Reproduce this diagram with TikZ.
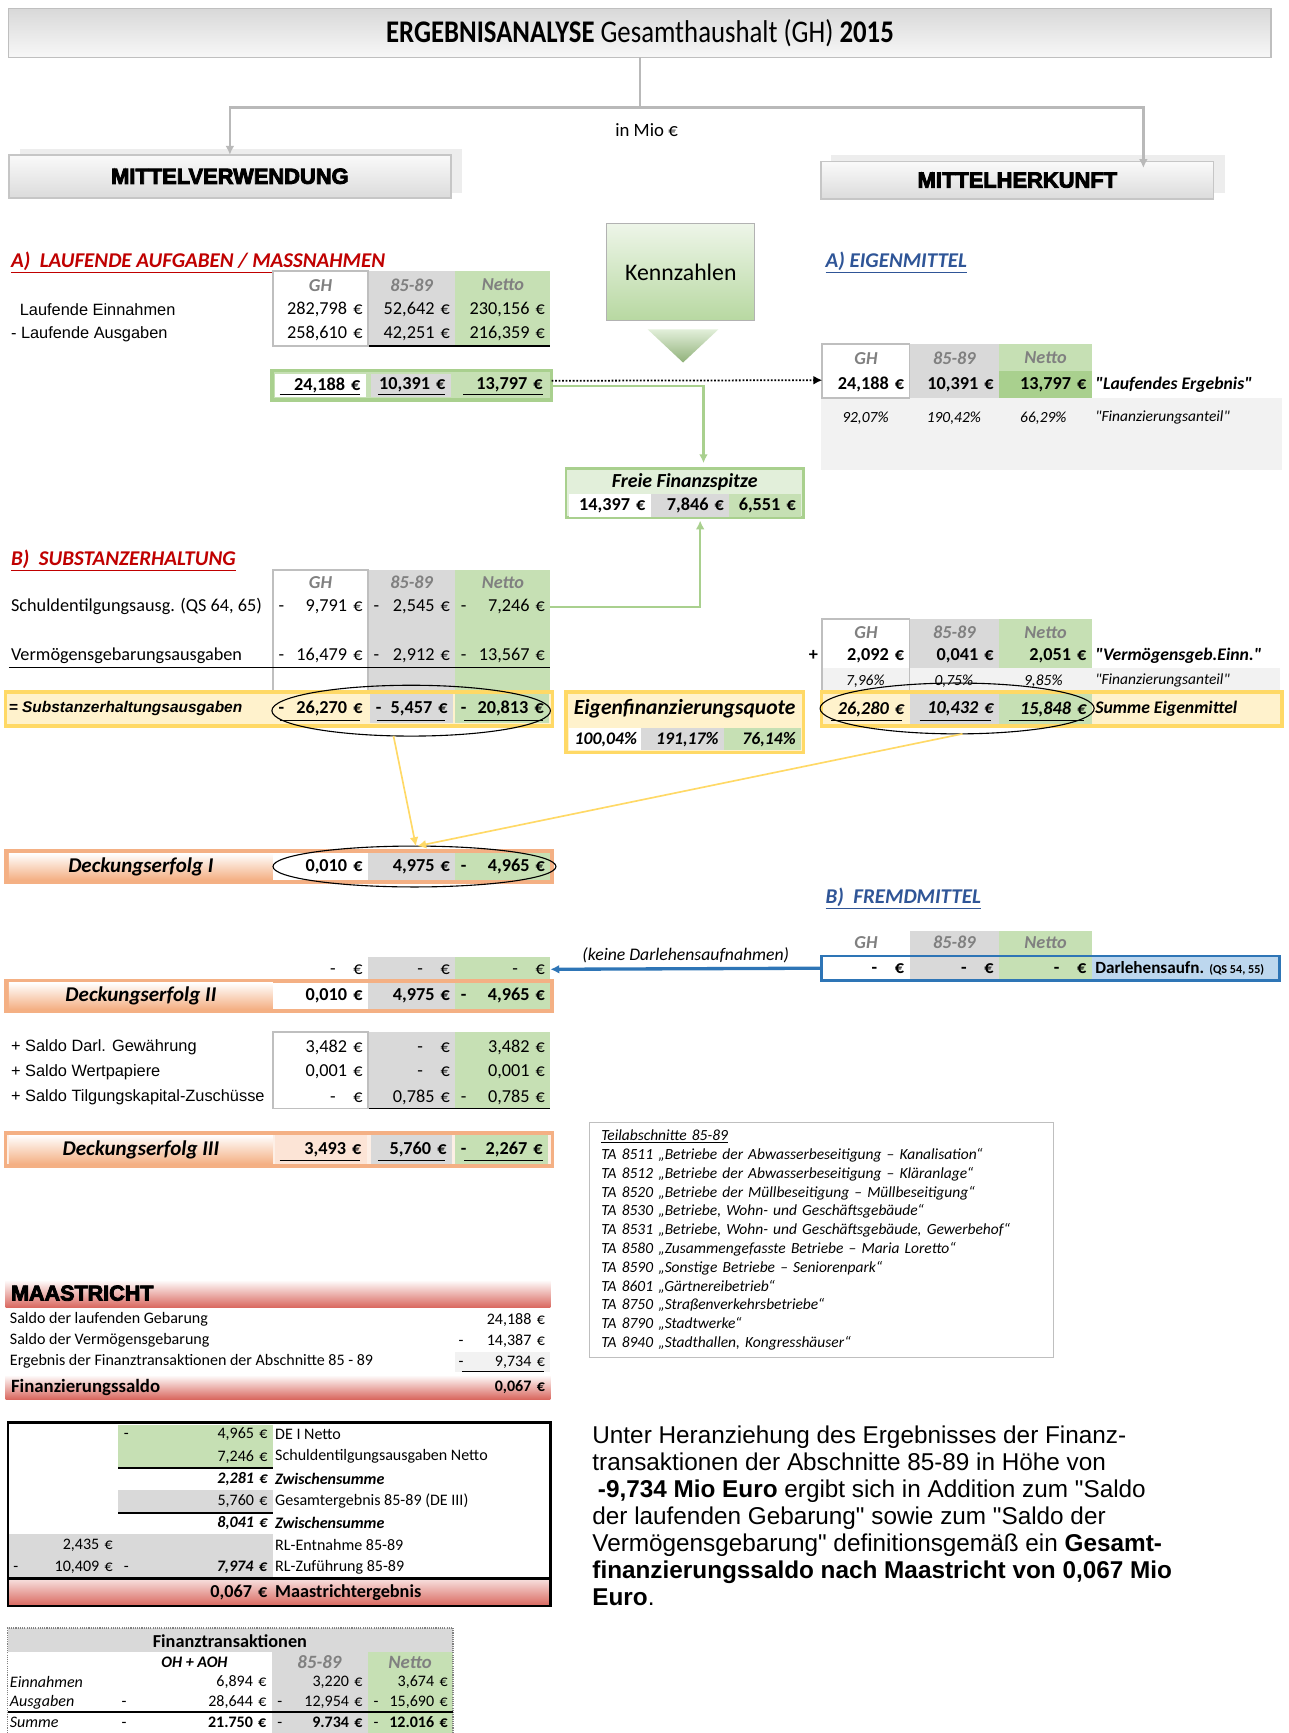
\documentclass[tikz,border=0pt]{standalone}
\usepackage{fontspec}
\usepackage{xcolor}
\usepackage{tikz}
\usetikzlibrary{positioning, arrows.meta, calc, shapes.geometric}

\setmainfont{Carlito}[Ligatures=TeXOff]
\newfontfamily\arialfont{Liberation Sans}[Ligatures=TeXOff]
\newfontfamily\blackfont{Liberation Sans Bold}[FakeBold=4]
\newfontfamily\titfont{Carlito}[FakeStretch=0.85]
\newcommand{\sz}[1]{\fontsize{#1}{#1}\selectfont}

\definecolor{cellgray}{HTML}{D9D9D9}
\definecolor{cellgreen}{HTML}{C6E0B4}
\definecolor{darkgreen}{HTML}{A9D08E}
\definecolor{palegreen}{HTML}{E2EFDA}
\definecolor{cellyellow}{HTML}{FFF2CC}
\definecolor{lineyellow}{HTML}{FFD966}
\definecolor{lineorange}{HTML}{F4B084}
\definecolor{cellorange}{HTML}{FCE4D6}
\definecolor{bandred}{HTML}{D9675E}
\definecolor{headred}{HTML}{C00000}
\definecolor{headblue}{HTML}{2F5597}
\definecolor{lineblue}{HTML}{2E75B6}
\definecolor{cellblue}{HTML}{BDD7EE}
\definecolor{cellpale}{HTML}{F2F2F2}
\definecolor{headgray}{HTML}{808080}

\begin{document}
\begin{tikzpicture}[ x = 1pt, y = -1pt
                     , >={Latex[width=8pt, length=8pt]}
                     , font = \sz{16.5}
                     , every node/.style = { inner sep = 0pt, outer sep = 0pt }
                     , cellbox/.style = { anchor = north west
                                        , minimum height = 22pt
                                        , inner xsep = 5pt
                                        , text width = #1
                                        , align = right }
                     , cellbox/.default = 76pt
                     , rowlbl/.style = { anchor = west }
                     , colhead/.style = { font = \sz{16.5}\bfseries\itshape, text = headgray }
                     , section/.style = { anchor = west, font = \sz{19}\bfseries\itshape }
                     , band/.style = { anchor = north west, line width = 3pt }
                     , deckung/.style = { anchor = north west
                                        , minimum width = 239pt
                                        , minimum height = 24pt
                                        , top color = white
                                        , bottom color = lineorange
                                        , font = \sz{19}\bfseries\itshape }
                     , ring/.style = { draw, ellipse, line width = 1pt }
                     , conn/.style = { draw = gray!55, line width = 2.5pt }
                     , gline/.style = { draw = darkgreen, line width = 2pt }
                     , yline/.style = { draw = lineyellow, line width = 1.5pt }
                     , bline/.style = { draw = lineblue, line width = 3pt }
                     ]

  \useasboundingbox (0,0) rectangle (1166,1568);
  \fill [white] (0,0) rectangle (1166,1568);

  \node (title) [ anchor = north west, minimum width = 1142pt, minimum height = 44pt
                , top color = gray!30, bottom color = gray!6, draw = gray!50, line width = 1pt
                , font = \titfont\sz{28.5} ] at (8,8)
    {\textbf{ERGEBNISANALYSE} Gesamthaushalt (GH) \textbf{2015}};

  \fill [gray!14] (18,135) rectangle (418,175);
  \node (mv) [ anchor = north west, minimum width = 400pt, minimum height = 39pt
             , top color = gray!4, bottom color = gray!28, draw = gray!45, line width = 1.5pt
             , font = \blackfont\sz{19.8} ] at (8,140) {MITTELVERWENDUNG};
  \fill [gray!14] (752,140) rectangle (1108,175);
  \node (mh) [ anchor = north west, minimum width = 355pt, minimum height = 34pt
             , top color = gray!4, bottom color = gray!28, draw = gray!45, line width = 1.5pt
             , font = \blackfont\sz{19.8} ] at (743,146) {MITTELHERKUNFT};

  \coordinate (split) at (579,97);
  \draw [conn] (title.south) -- (split);
  \draw [conn, ->] (split) -| (mv.north);
  \draw [conn, ->] (split) -| ([xshift = 114pt, yshift = -6pt] mh.north);
  \node (unit) [font = \sz{17}] at (585,118) {in Mio €};

  \node (secA) [section, text = headred] at (10,237) {\underline{A)\ \ LAUFENDE AUFGABEN / MASSNAHMEN}};
  \fill [cellgray] (333,245) rectangle (412,313);
  \fill [cellgreen] (412,245) rectangle (498,313);
  \draw [gray!50, line width = 1.5pt, fill = white] (247,245) rectangle (333,313);
  \draw [line width = 1.5pt] (334,313) -- (498,313);
  \node (a0gh) [colhead] at (290,258) {GH};
  \node (a0ea) [colhead] at (372.5,258) {85-89};
  \node (a0nt) [colhead] at (455,258) {Netto};
  \node (a1lbl) [rowlbl, font = \arialfont\sz{14.8}] at (18,280) {Laufende Einnahmen};
  \node (a1gh) [cellbox = 76pt] at (247,269) {282,798 €};
  \node (a1ea) [cellbox = 69pt] at (333,269) {52,642 €};
  \node (a1nt) [cellbox = 76pt] at (412,269) {230,156 €};
  \node (a2lbl) [rowlbl, font = \arialfont\sz{14.8}] at (10,302) {- Laufende Ausgaben};
  \node (a2gh) [cellbox = 76pt] at (247,291) {258,610 €};
  \node (a2ea) [cellbox = 69pt] at (333,291) {42,251 €};
  \node (a2nt) [cellbox = 76pt] at (412,291) {216,359 €};

  \node (sumA) [band, draw = darkgreen, fill = cellgreen, minimum width = 253pt, minimum height = 27pt] at (246,335) {};
  \node (sumAgh) [cellbox = 72pt, minimum height = 21pt, fill = white, font = \sz{16.5}\bfseries] at (249,338) {24,188 €};
  \node (sumAea) [cellbox = 62pt, minimum height = 21pt, fill = cellgray, font = \sz{16.5}\bfseries] at (336,338) {10,391 €};
  \node (sumAnt) [cellbox = 74pt, minimum height = 21pt, font = \sz{16.5}\bfseries] at (412,338) {13,797 €};
  \draw [line width = 1.5pt] (253,357) -- (326,357) (342,357) -- (403,357) (419,357) -- (491,357);

  \node (kz) [ anchor = north west, minimum width = 134pt, minimum height = 88pt
             , top color = palegreen!60!white, bottom color = cellgreen!50!darkgreen
             , draw = gray!60, line width = 1pt, font = \sz{21.5} ] at (549,202) {Kennzahlen};
  \shade [top color = palegreen, bottom color = darkgreen!85!black] (586,298) -- (650,298) -- (618,328) -- cycle;

  \node (secEA) [section, text = headblue] at (747,237) {\underline{A) EIGENMITTEL}};
  \fill [cellpale] (743,360) rectangle (1160,425);
  \fill [cellgray] (823,311) rectangle (904,360);
  \fill [cellgreen] (904,311) rectangle (988,336);
  \fill [darkgreen] (904,336) rectangle (988,360);
  \draw [gray!50, line width = 1.5pt, fill = white] (744,311) rectangle (823,360);
  \node (e0gh) [colhead] at (783.5,324) {GH};
  \node (e0ea) [colhead] at (863.5,324) {85-89};
  \node (e0nt) [colhead] at (946,324) {Netto};
  \node (e1gh) [cellbox = 69pt, minimum height = 24pt, font = \sz{16.5}\bfseries] at (744,336) {24,188 €};
  \node (e1ea) [cellbox = 71pt, minimum height = 24pt, font = \sz{16.5}\bfseries] at (823,336) {10,391 €};
  \node (e1nt) [cellbox = 74pt, minimum height = 24pt, font = \sz{16.5}\bfseries] at (904,336) {13,797 €};
  \node (e1lbl) [rowlbl, font = \sz{16}\bfseries\itshape] at (991,348) {"Laufendes Ergebnis"};
  \node (e2gh) [font = \sz{14}\itshape] at (783,378) {92,07\%};
  \node (e2ea) [font = \sz{14}\itshape] at (863,378) {190,42\%};
  \node (e2nt) [font = \sz{14}\itshape] at (944,378) {66,29\%};
  \node (e2lbl) [rowlbl, font = \sz{14}\itshape] at (991,378) {"Finanzierungsanteil"};

  \draw [dash pattern = on 1.6pt off 1.6pt, line width = 1.6pt, ->] ([yshift = 4pt] sumA.east) -- ([yshift = 4pt] e1gh.west);

  \node (ffs) [ anchor = north west, minimum width = 215pt, minimum height = 44pt
              , draw = darkgreen, line width = 2.5pt, fill = palegreen ] at (512,424) {};
  \node (ffst) [font = \sz{18}\bfseries\itshape] at (619.5,436) {Freie Finanzspitze};
  \node (ffsgh) [cellbox = 64pt, minimum height = 21pt, fill = white, font = \sz{16.5}\bfseries] at (515,447) {14,397 €};
  \node (ffsea) [cellbox = 61pt, minimum height = 21pt, fill = cellgray, font = \sz{16.5}\bfseries] at (589,447) {7,846 €};
  \node (ffsnt) [cellbox = 55pt, minimum height = 21pt, fill = cellgreen, font = \sz{16.5}\bfseries] at (660,447) {6,551 €};

  \draw [gline, ->] ([yshift = -1pt] sumA.east) -| ([xshift = 17pt, yshift = 5pt] ffs.north);

  \node (secB) [section, text = headred] at (10,507) {\underline{B)\ \ SUBSTANZERHALTUNG}};
  \fill [cellgray] (333,516) rectangle (412,628);
  \fill [cellgreen] (412,516) rectangle (498,628);
  \draw [gray!50, line width = 1.5pt, fill = white] (247,516) rectangle (333,626);
  \node (b0gh) [colhead] at (290,527) {GH};
  \node (b0ea) [colhead] at (372.5,527) {85-89};
  \node (b0nt) [colhead] at (455,527) {Netto};
  \node (b1lbl) [rowlbl] at (10,549) {Schuldentilgungsausg. (QS 64, 65)};
  \node (b1gh) [cellbox = 76pt] at (247,538) {-\hfill 9,791 €};
  \node (b1ea) [cellbox = 69pt] at (333,538) {-\hfill 2,545 €};
  \node (b1nt) [cellbox = 76pt] at (412,538) {-\hfill 7,246 €};
  \node (b2lbl) [rowlbl] at (10,593) {Vermögensgebarungsausgaben};
  \node (b2gh) [cellbox = 76pt] at (247,582) {-\hfill 16,479 €};
  \node (b2ea) [cellbox = 69pt] at (333,582) {-\hfill 2,912 €};
  \node (b2nt) [cellbox = 76pt] at (412,582) {-\hfill 13,567 €};
  \draw [line width = 1.5pt] (8,604) -- (498,604);

  \draw [gline, ->] (b1nt.east) -| ([xshift = 14pt, yshift = -3pt] ffs.south);

  \node (sumB) [band, draw = lineyellow, fill = cellyellow, minimum width = 495pt, minimum height = 31pt] at (5,626) {};
  \node (sumBlbl) [rowlbl, font = \arialfont\sz{14}\bfseries\itshape] at (8,641) {= Substanzerhaltungsausgaben};
  \node (sumBgh) [cellbox = 76pt, minimum height = 26pt, font = \sz{16.5}\bfseries] at (247,628) {-\hfill 26,270 €};
  \node (sumBea) [cellbox = 65pt, minimum height = 26pt, fill = cellgray, font = \sz{16.5}\bfseries] at (335,628) {-\hfill 5,457 €};
  \node (sumBnt) [cellbox = 75pt, minimum height = 26pt, fill = cellgreen, font = \sz{16.5}\bfseries] at (412,628) {-\hfill 20,813 €};
  \draw [line width = 1.5pt] (253,652) -- (326,652) (341,652) -- (403,652) (420,652) -- (491,652);
  \node (ringB) [ring, minimum width = 252pt, minimum height = 46pt] at (372,643) {};

  \node (efq) [band, draw = lineyellow, fill = cellyellow, minimum width = 215pt, minimum height = 55pt] at (512,626) {};
  \node (efqt) [font = \sz{19.5}\bfseries\itshape] at (619.5,641) {Eigenfinanzierungsquote};
  \node (efqgh) [cellbox = 55pt, minimum height = 20pt, fill = white, font = \sz{16}\bfseries\itshape] at (515,659) {100,04\%};
  \node (efqea) [cellbox = 65pt, minimum height = 20pt, fill = cellgray, font = \sz{16}\bfseries\itshape] at (580,659) {191,17\%};
  \node (efqnt) [cellbox = 60pt, minimum height = 20pt, fill = cellgreen, font = \sz{16}\bfseries\itshape] at (655,659) {76,14\%};

  \fill [cellpale] (744,604) rectangle (1158,626);
  \fill [white] (744,560) rectangle (823,604);
  \fill [cellgray] (823,560) rectangle (904,604);
  \fill [cellgreen] (904,560) rectangle (988,604);
  \draw [gray!50, line width = 1.5pt] (744,560) rectangle (823,626);
  \node (f0gh) [colhead] at (783.5,572) {GH};
  \node (f0ea) [colhead] at (863.5,572) {85-89};
  \node (f0nt) [colhead] at (946,572) {Netto};
  \node (f1plus) [font = \sz{16.5}\bfseries] at (736,593) {+};
  \node (f1gh) [cellbox = 69pt, font = \sz{16.5}\bfseries] at (744,582) {2,092 €};
  \node (f1ea) [cellbox = 71pt, font = \sz{16.5}\bfseries] at (823,582) {0,041 €};
  \node (f1nt) [cellbox = 74pt, font = \sz{16.5}\bfseries] at (904,582) {2,051 €};
  \node (f1lbl) [rowlbl, font = \sz{16}\bfseries\itshape] at (991,593) {"Vermögensgeb.Einn."};
  \node (f2gh) [font = \sz{14}\itshape] at (783,616) {7,96\%};
  \node (f2ea) [font = \sz{14}\itshape] at (863,616) {0,75\%};
  \node (f2nt) [font = \sz{14}\itshape] at (944,616) {9,85\%};
  \node (f2lbl) [rowlbl, font = \sz{14}\itshape] at (991,616) {"Finanzierungsanteil"};

  \node (sumE) [band, draw = lineyellow, fill = cellyellow, minimum width = 417pt, minimum height = 31pt] at (743,626) {};
  \node (sumEgh) [cellbox = 69pt, minimum height = 27pt, font = \sz{16.5}\bfseries\itshape] at (744,628) {26,280 €};
  \node (sumEea) [cellbox = 71pt, minimum height = 27pt, fill = cellgray, font = \sz{16.5}\bfseries\itshape] at (823,628) {10,432 €};
  \node (sumEnt) [cellbox = 74pt, minimum height = 27pt, fill = cellgreen, font = \sz{16.5}\bfseries\itshape] at (904,628) {15,848 €};
  \draw [line width = 1.5pt] (752,652) -- (816,652) (832,652) -- (897,652) (913,652) -- (981,652);
  \node (sumElbl) [rowlbl, font = \sz{16}\bfseries\itshape] at (991,641) {Summe Eigenmittel};
  \node (ringE) [ring, minimum width = 248pt, minimum height = 46pt] at (866,641) {};

  \node (deI) [band, draw = lineorange, fill = lineorange, minimum width = 495pt, minimum height = 28pt] at (5,770) {};
  \node (deIlbl) [deckung] at (8,772) {Deckungserfolg I};
  \node (deIgh) [cellbox = 76pt, minimum height = 24pt, fill = white, font = \sz{16.5}\bfseries] at (247,772) {0,010 €};
  \node (deIea) [cellbox = 69pt, minimum height = 24pt, fill = cellgray, font = \sz{16.5}\bfseries] at (333,772) {4,975 €};
  \node (deInt) [cellbox = 76pt, minimum height = 24pt, fill = cellgreen, font = \sz{16.5}\bfseries] at (412,772) {-\hfill 4,965 €};
  \node (ringD) [ring, minimum width = 256pt, minimum height = 37pt] at (375,784) {};

  \draw [yline, ->] (ringB.235) -- (ringD.86);
  \draw [yline, ->] (ringE.282) -- (ringD.82);

  \node (secFM) [section, text = headblue] at (747,813) {\underline{B)\ \ FREMDMITTEL}};
  \fill [cellgray] (823,842) rectangle (904,864);
  \fill [cellgreen] (904,842) rectangle (988,864);
  \node (g0gh) [colhead] at (783.5,853) {GH};
  \node (g0ea) [colhead] at (863.5,853) {85-89};
  \node (g0nt) [colhead] at (946,853) {Netto};
  \fill [cellgray] (823,866) rectangle (904,886);
  \fill [cellgreen] (904,866) rectangle (988,886);
  \fill [cellblue] (988,866) rectangle (1157,886);
  \node (fm) [ anchor = north west, minimum width = 415pt, minimum height = 22pt
             , draw = lineblue, line width = 2.5pt ] at (743,865) {};
  \node (g1gh) [cellbox = 69pt, font = \sz{16.5}\bfseries] at (744,865) {-\hspace{16pt}€};
  \node (g1ea) [cellbox = 71pt, font = \sz{16.5}\bfseries] at (823,865) {-\hspace{16pt}€};
  \node (g1nt) [cellbox = 74pt, font = \sz{16.5}\bfseries] at (904,865) {-\hspace{16pt}€};
  \node (g1lbl) [rowlbl, font = \sz{15.5}\bfseries] at (991,876) {Darlehensaufn. {\sz{11}(QS 54, 55)}};

  \node (z0gh) [cellbox = 76pt] at (247,866) {-\hspace{16pt}€};
  \node (z0ea) [cellbox = 69pt, fill = cellgray] at (333,866) {-\hspace{16pt}€};
  \node (z0nt) [cellbox = 76pt, fill = cellgreen] at (412,866) {-\hspace{16pt}€};

  \draw [bline, ->] (fm.west) -- node [above = 5pt, font = \sz{16}\itshape] (nodarl) {(keine Darlehensaufnahmen)} (z0nt.east);

  \node (deII) [band, draw = lineorange, fill = lineorange, minimum width = 495pt, minimum height = 28pt] at (5,887) {};
  \node (deIIlbl) [deckung] at (8,889) {Deckungserfolg II};
  \node (deIIgh) [cellbox = 76pt, minimum height = 24pt, fill = white, font = \sz{16.5}\bfseries] at (247,889) {0,010 €};
  \node (deIIea) [cellbox = 69pt, minimum height = 24pt, fill = cellgray, font = \sz{16.5}\bfseries] at (333,889) {4,975 €};
  \node (deIInt) [cellbox = 76pt, minimum height = 24pt, fill = cellgreen, font = \sz{16.5}\bfseries] at (412,889) {-\hfill 4,965 €};

  \fill [cellgray] (333,934) rectangle (412,1003);
  \fill [cellgreen] (412,934) rectangle (498,1003);
  \draw [gray!50, line width = 1.5pt, fill = white] (247,934) rectangle (333,1003);
  \draw [line width = 1.5pt] (334,1003) -- (498,1003);
  \node (h1lbl) [rowlbl, font = \arialfont\sz{14.8}] at (10,948) {+ Saldo Darl. Gewährung};
  \node (h1gh) [cellbox = 76pt] at (247,937) {3,482 €};
  \node (h1ea) [cellbox = 69pt] at (333,937) {-\hspace{16pt}€};
  \node (h1nt) [cellbox = 76pt] at (412,937) {3,482 €};
  \node (h2lbl) [rowlbl, font = \arialfont\sz{14.8}] at (10,970) {+ Saldo Wertpapiere};
  \node (h2gh) [cellbox = 76pt] at (247,959) {0,001 €};
  \node (h2ea) [cellbox = 69pt] at (333,959) {-\hspace{16pt}€};
  \node (h2nt) [cellbox = 76pt] at (412,959) {0,001 €};
  \node (h3lbl) [rowlbl, font = \arialfont\sz{14.8}] at (10,993) {+ Saldo Tilgungskapital-Zuschüsse};
  \node (h3gh) [cellbox = 76pt] at (247,982) {-\hspace{16pt}€};
  \node (h3ea) [cellbox = 69pt] at (333,982) {0,785 €};
  \node (h3nt) [cellbox = 76pt] at (412,982) {-\hfill 0,785 €};

  \node (deIII) [band, draw = lineorange, fill = cellorange!60, minimum width = 495pt, minimum height = 30pt] at (5,1025) {};
  \node (deIIIlbl) [deckung, minimum height = 26pt] at (8,1027) {Deckungserfolg III};
  \node (deIIIgh) [cellbox = 73pt, minimum height = 26pt, fill = cellorange, font = \sz{16.5}\bfseries] at (249,1027) {3,493 €};
  \node (deIIIea) [cellbox = 63pt, minimum height = 26pt, fill = cellgray, font = \sz{16.5}\bfseries] at (336,1027) {5,760 €};
  \node (deIIInt) [cellbox = 74pt, minimum height = 26pt, fill = cellgreen, font = \sz{16.5}\bfseries] at (412,1027) {-\hfill 2,267 €};
  \draw [line width = 1.5pt] (253,1050) -- (326,1050) (342,1050) -- (403,1050) (420,1050) -- (491,1050);

  \node (ta) [ anchor = north west, draw = gray!50, line width = 1pt
             , minimum width = 420pt, minimum height = 212pt
             , inner xsep = 11pt, inner ysep = 4pt, text width = 398pt, align = left
             , font = \fontsize{14}{17}\selectfont\itshape ] at (533,1016)
    {\underline{Teilabschnitte 85-89}\\
     TA 8511 „Betriebe der Abwasserbeseitigung – Kanalisation“\\
     TA 8512 „Betriebe der Abwasserbeseitigung – Kläranlage“\\
     TA 8520 „Betriebe der Müllbeseitigung – Müllbeseitigung“\\
     TA 8530 „Betriebe, Wohn- und Geschäftsgebäude“\\
     TA 8531 „Betriebe, Wohn- und Geschäftsgebäude, Gewerbehof“\\
     TA 8580 „Zusammengefasste Betriebe – Maria Loretto“\\
     TA 8590 „Sonstige Betriebe – Seniorenpark“\\
     TA 8601 „Gärtnereibetrieb“\\
     TA 8750 „Straßenverkehrsbetriebe“\\
     TA 8790 „Stadtwerke“\\
     TA 8940 „Stadthallen, Kongresshäuser“};

  \node (maa) [ anchor = north west, minimum width = 493pt, minimum height = 25pt
              , top color = white, bottom color = bandred ] at (5,1158) {};
  \node (maat) [rowlbl, font = \blackfont\sz{19.5}] at (10,1170) {MAASTRICHT};
  \node (m1lbl) [rowlbl, font = \sz{14.5}] at (9,1194) {Saldo der laufenden Gebarung};
  \node (m1val) [cellbox = 78pt, minimum height = 19pt, font = \sz{14.5}] at (410,1185) {24,188 €};
  \node (m2lbl) [rowlbl, font = \sz{14.5}] at (9,1213) {Saldo der Vermögensgebarung};
  \node (m2val) [cellbox = 78pt, minimum height = 19pt, font = \sz{14.5}] at (410,1204) {-\hfill 14,387 €};
  \fill [cellpale] (412,1223) rectangle (498,1241);
  \node (m3lbl) [rowlbl, font = \sz{14.5}] at (9,1232) {Ergebnis der Finanztransaktionen der Abschnitte 85 - 89};
  \node (m3val) [cellbox = 78pt, minimum height = 19pt, font = \sz{14.5}] at (410,1223) {-\hfill 9,734 €};
  \draw [line width = 1.5pt] (418,1241) -- (492,1241);
  \node (fsaldo) [ anchor = north west, minimum width = 493pt, minimum height = 22pt
                 , top color = white, bottom color = bandred ] at (5,1244) {};
  \node (fsaldolbl) [rowlbl, font = \sz{17}\bfseries] at (10,1255) {Finanzierungssaldo};
  \node (fsaldoval) [cellbox = 78pt, minimum height = 22pt, font = \sz{14.5}\bfseries] at (410,1244) {0,067 €};

  \fill [cellgreen] (107,1289) rectangle (247,1328);
  \fill [cellgray] (107,1348) rectangle (247,1368);
  \fill [cellgray] (7,1388) rectangle (247,1428);
  \shade [top color = bandred!25, bottom color = bandred] (7,1430) rectangle (498,1453);
  \draw [line width = 2pt] (7,1287) rectangle (498,1453);
  \draw [line width = 2pt] (107,1328) -- (247,1328) (107,1369) -- (247,1369);
  \draw [line width = 2.5pt] (7,1428.5) -- (498,1428.5);
  \node (q1val) [cellbox = 130pt, minimum height = 20pt, font = \sz{14.5}] at (107,1288) {-\hfill 4,965 €};
  \node (q1lbl) [rowlbl, font = \sz{14.5}] at (249,1298) {DE I Netto};
  \node (q2val) [cellbox = 130pt, minimum height = 20pt, font = \sz{14.5}] at (107,1308) {7,246 €};
  \node (q2lbl) [rowlbl, font = \sz{14.5}] at (249,1318) {Schuldentilgungsausgaben Netto};
  \node (q3val) [cellbox = 130pt, minimum height = 20pt, font = \sz{14.5}\bfseries\itshape] at (107,1328) {2,281 €};
  \node (q3lbl) [rowlbl, font = \sz{14.5}\bfseries\itshape] at (249,1338) {Zwischensumme};
  \node (q4val) [cellbox = 130pt, minimum height = 20pt, font = \sz{14.5}] at (107,1348) {5,760 €};
  \node (q4lbl) [rowlbl, font = \sz{14.5}] at (249,1358) {Gesamtergebnis 85-89 (DE III)};
  \node (q5val) [cellbox = 130pt, minimum height = 20pt, font = \sz{14.5}\bfseries\itshape] at (107,1368) {8,041 €};
  \node (q5lbl) [rowlbl, font = \sz{14.5}\bfseries\itshape] at (249,1378) {Zwischensumme};
  \node (q6left) [cellbox = 90pt, minimum height = 20pt, font = \sz{14.5}] at (7,1388) {2,435 €};
  \node (q6lbl) [rowlbl, font = \sz{14.5}] at (249,1398) {RL-Entnahme 85-89};
  \node (q7left) [cellbox = 90pt, minimum height = 20pt, font = \sz{14.5}] at (7,1408) {-\hfill 10,409 €};
  \node (q7val) [cellbox = 130pt, minimum height = 20pt, font = \sz{14.5}] at (107,1408) {-\hfill \textbf{\textit{7,974 €}}};
  \node (q7lbl) [rowlbl, font = \sz{14.5}] at (249,1418) {RL-Zuführung 85-89};
  \node (q8val) [cellbox = 130pt, minimum height = 22pt, font = \sz{16.5}\bfseries] at (107,1430) {0,067 €};
  \node (q8lbl) [rowlbl, font = \sz{16.5}\bfseries] at (249,1441) {Maastrichtergebnis};

  \node (para) [ anchor = north west, align = left
               , font = \arialfont\fontsize{22}{24.4}\selectfont ] at (536,1290)
    {Unter Heranziehung des Ergebnisses der Finanz-\\
     transaktionen der Abschnitte 85-89 in Höhe von\\
     \hspace{5pt}\textbf{-9,734 Mio Euro} ergibt sich in Addition zum "Saldo\\
     der laufenden Gebarung" sowie zum "Saldo der\\
     Vermögensgebarung" definitionsgemäß ein \textbf{Gesamt-}\\
     \textbf{finanzierungssaldo nach Maastricht von 0,067 Mio}\\
     \textbf{Euro}.};

  \fill [cellgray] (7,1473) rectangle (410,1495);
  \fill [cellgray] (246,1495) rectangle (333,1580);
  \fill [cellgreen] (333,1495) rectangle (410,1580);
  \draw [gray, line width = 1.2pt, dash pattern = on 1pt off 1pt] (7,1580) -- (7,1473) -- (410,1473) -- (410,1580);
  \node (ftt) [font = \sz{16.5}\bfseries] at (208,1485) {Finanztransaktionen};
  \node (ft0a) [font = \sz{14.5}\bfseries\itshape] at (176,1504) {OH + AOH};
  \node (ft0b) [colhead, font = \sz{17}\bfseries\itshape] at (289,1504) {85-89};
  \node (ft0c) [colhead, font = \sz{17}\bfseries\itshape] at (371,1504) {Netto};
  \node (ft1lbl) [rowlbl, font = \sz{14.5}\itshape] at (9,1522) {Einnahmen};
  \node (ft1a) [cellbox = 131pt, minimum height = 18pt, font = \sz{14.5}] at (105,1513) {6,894 €};
  \node (ft1b) [cellbox = 77pt, minimum height = 18pt, font = \sz{14.5}] at (246,1513) {3,220 €};
  \node (ft1c) [cellbox = 67pt, minimum height = 18pt, font = \sz{14.5}] at (333,1513) {3,674 €};
  \node (ft2lbl) [rowlbl, font = \sz{14.5}\itshape] at (9,1540) {Ausgaben};
  \node (ft2a) [cellbox = 131pt, minimum height = 18pt, font = \sz{14.5}] at (105,1531) {-\hfill 28,644 €};
  \node (ft2b) [cellbox = 77pt, minimum height = 18pt, font = \sz{14.5}] at (246,1531) {-\hfill 12,954 €};
  \node (ft2c) [cellbox = 67pt, minimum height = 18pt, font = \sz{14.5}] at (333,1531) {-\hfill 15,690 €};
  \draw [line width = 1.5pt] (7,1549) -- (410,1549);
  \node (ft3lbl) [rowlbl, font = \sz{14.5}\itshape] at (9,1558) {Summe};
  \node (ft3a) [cellbox = 131pt, minimum height = 18pt, font = \sz{14.5}] at (105,1549) {-\hfill \textbf{21.750 €}};
  \node (ft3b) [cellbox = 77pt, minimum height = 18pt, font = \sz{14.5}] at (246,1549) {-\hfill \textbf{9.734 €}};
  \node (ft3c) [cellbox = 67pt, minimum height = 18pt, font = \sz{14.5}] at (333,1549) {-\hfill \textbf{12.016 €}};

\end{tikzpicture}
\end{document}
